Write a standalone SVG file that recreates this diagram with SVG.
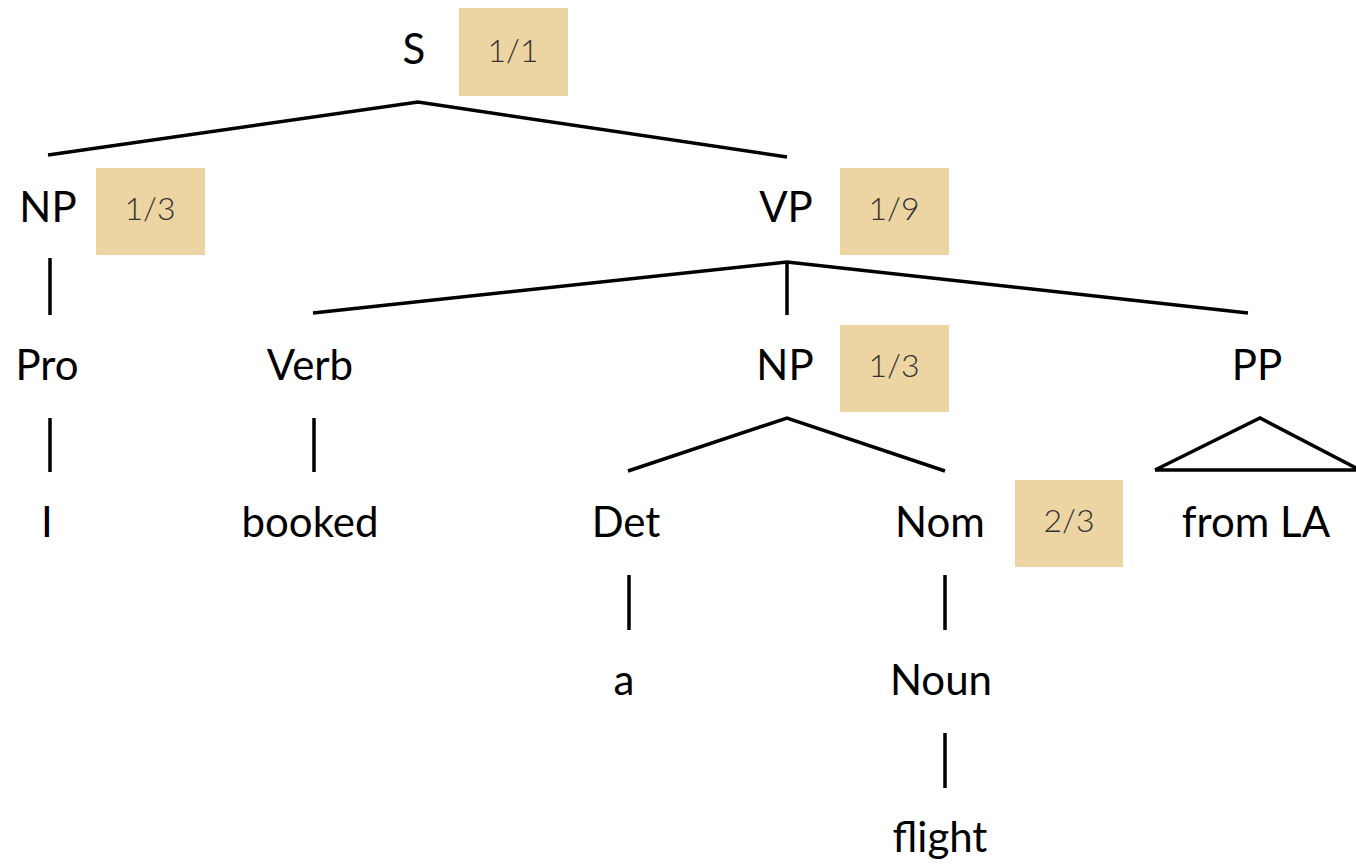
<svg xmlns="http://www.w3.org/2000/svg" width="1356" height="865" viewBox="0 0 1356 865">
<style>
.t{font-family:"Lato","Open Sans","Liberation Sans",sans-serif;font-size:42px;fill:#000;text-anchor:middle}
.p{font-family:"Lato","Open Sans","Liberation Sans",sans-serif;font-weight:300;font-size:32px;fill:#333;text-anchor:middle}
.b{fill:#EDD5A3}
.e{stroke:#000;stroke-width:3.5;fill:none;stroke-linecap:butt}
</style>
<rect width="1356" height="865" fill="#fff"/>
<g id="connectors">
<path class="e" d="M48,155 L418,102 L787,157"/>
<path class="e" d="M50,258 V315"/>
<path class="e" d="M50,418 V472"/>
<path class="e" d="M313,313 L787,262 L1248,313 M787,262 V315"/>
<path class="e" d="M314,418 V472"/>
<path class="e" d="M628,471 L787,418 L945,471"/>
<path class="e" d="M1155,470 L1260,418 L1356,468 M1155,470 H1356"/>
<path class="e" d="M629,575 V630"/>
<path class="e" d="M945,575 V630"/>
<path class="e" d="M945,733 V788"/>
</g>
<g id="S"><text class="t" x="414" y="64">S</text><rect class="b" x="459" y="8" width="109" height="88"/><text class="p" x="513" y="62">1/1</text></g>
<g id="NP1"><text class="t" x="48" y="222">NP</text><rect class="b" x="96" y="168" width="109" height="87"/><text class="p" x="150" y="220">1/3</text></g>
<g id="VP"><text class="t" x="786" y="222">VP</text><rect class="b" x="840" y="168" width="109" height="87"/><text class="p" x="894" y="220">1/9</text></g>
<g id="Pro"><text class="t" x="47" y="380">Pro</text></g>
<g id="I"><text class="t" x="47" y="537">I</text></g>
<g id="Verb"><text class="t" x="310" y="380">Verb</text></g>
<g id="booked"><text class="t" x="310" y="537">booked</text></g>
<g id="NP2"><text class="t" x="785" y="380">NP</text><rect class="b" x="840" y="325" width="109" height="87"/><text class="p" x="894" y="377">1/3</text></g>
<g id="PP"><text class="t" x="1257" y="380">PP</text></g>
<g id="Det"><text class="t" x="626" y="537">Det</text></g>
<g id="Nom"><text class="t" x="940" y="537">Nom</text><rect class="b" x="1015" y="480" width="108" height="87"/><text class="p" x="1069" y="532">2/3</text></g>
<g id="fromLA"><text class="t" x="1256" y="537">from LA</text></g>
<g id="a"><text class="t" x="624" y="695">a</text></g>
<g id="Noun"><text class="t" x="941" y="695">Noun</text></g>
<g id="flight"><text class="t" x="940" y="852">flight</text></g>
</svg>
